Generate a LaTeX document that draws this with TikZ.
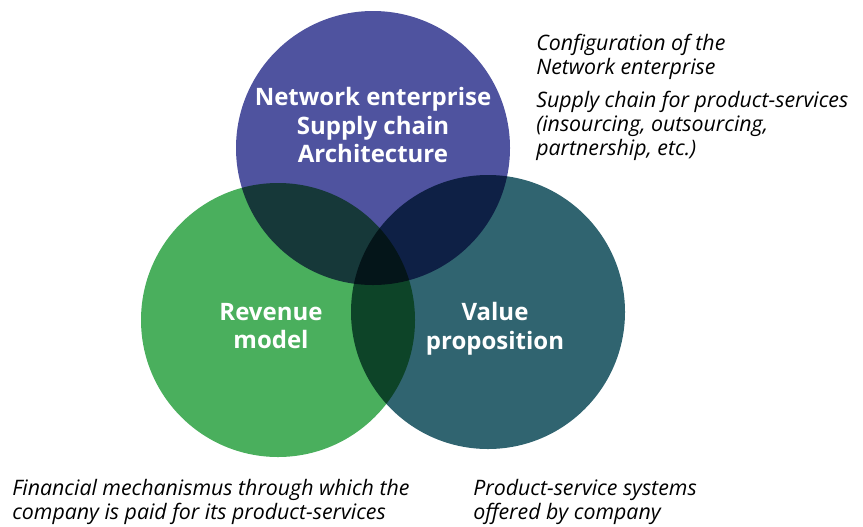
\documentclass[tikz,border=0pt]{standalone}
\usepackage{fontspec}
\setmainfont{Open Sans}
\definecolor{archblue}{RGB}{79,83,159}
\definecolor{revgreen}{RGB}{74,175,93}
\definecolor{valteal}{RGB}{48,100,112}
\begin{document}
\begin{tikzpicture}[x=0.75pt,y=-0.75pt,
    blob/.style={circle,minimum size=205.5pt,inner sep=0pt},
    title/.style={text=white,inner sep=0pt,align=center,
                  font=\bfseries\fontsize{18}{21.4}\selectfont},
    note/.style={inner sep=0pt,align=left,anchor=north west,
                 font=\itshape\fontsize{16}{17.8}\selectfont}]
\useasboundingbox (0,0) rectangle (863,526);
% the three circles, mixed by multiplying
\begin{scope}[blend group=multiply]
    \node [blob,fill=archblue] (arch) at (373,148) {};
    \node [blob,fill=revgreen] (rev) at (278,320) {};
    \node [blob,fill=valteal] (val) at (488,312) {};
\end{scope}
\node [title] (archtxt) at (373,125) {Network enterprise\\Supply chain\\Architecture};
\node [title] (revtxt) at (271,326) {Revenue\\model};
\node [title] (valtxt) at (495,329) {Value\\proposition};
% annotations
\node [note] (netnote) at (536,34) {Configuration of the\\Network enterprise};
\node [note] (supnote) at (536,91) {Supply chain for product-services\\(insourcing, outsourcing,\\partnership, etc.)};
\node [note] (finnote) at (12,479) {Financial mechanismus through which the\\company is paid for its product-services};
\node [note] (psnote) at (473,479) {Product-service systems\\offered by company};
\end{tikzpicture}
\end{document}
